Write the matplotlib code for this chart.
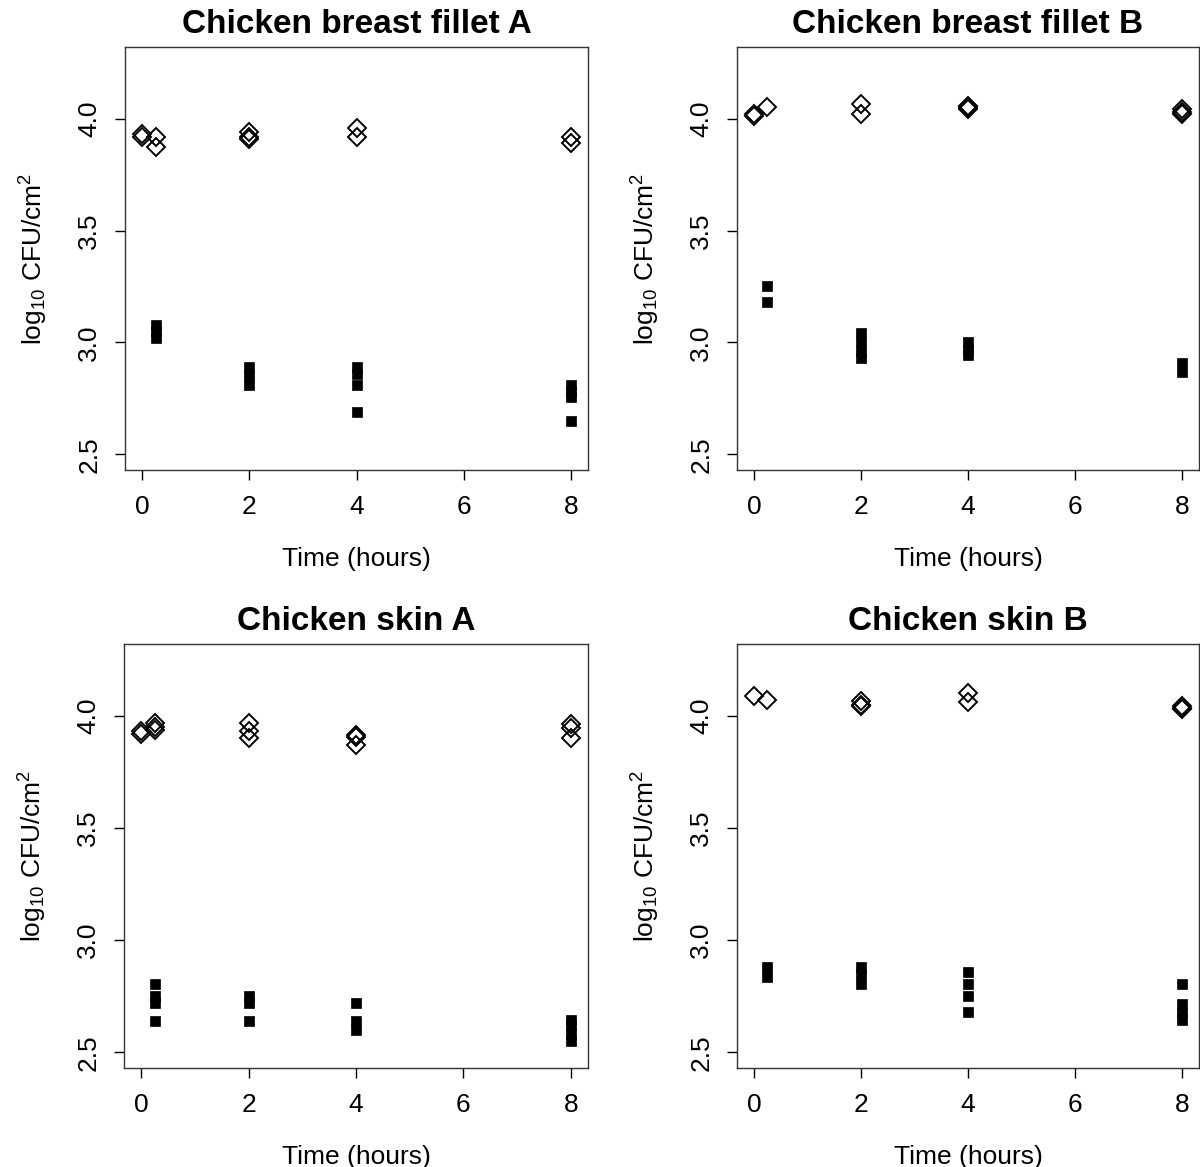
import matplotlib
matplotlib.use("Agg")
import matplotlib.pyplot as plt

plt.rcParams['font.family'] = ['Liberation Sans', 'DejaVu Sans']
plt.rcParams['mathtext.fontset'] = 'custom'
plt.rcParams['mathtext.rm'] = 'Liberation Sans'
plt.rcParams['mathtext.it'] = 'Liberation Sans:italic'

titles = ["Chicken breast fillet A", "Chicken breast fillet B",
          "Chicken skin A", "Chicken skin B"]
xticks = [0, 2, 4, 6, 8]
yticks = [2.5, 3.0, 3.5, 4.0]

# open diamonds (control) : times and values
fa_d_t = [0, 0, 0.25, 0.25, 2, 2, 2, 4, 4, 8, 8]
fa_d_v = [3.93, 3.92, 3.92, 3.875, 3.94, 3.92, 3.91, 3.96, 3.92, 3.92, 3.89]
# filled squares (treated)
fa_s_t = [0.25, 0.25, 0.25, 2, 2, 2, 4, 4, 4, 4, 8, 8, 8, 8]
fa_s_v = [3.08, 3.05, 3.02, 2.89, 2.85, 2.81, 2.89, 2.86, 2.81, 2.69, 2.81, 2.78, 2.755, 2.65]

fb_d_t = [0, 0, 0.25, 2, 2, 4, 4, 4, 8, 8, 8]
fb_d_v = [4.02, 4.01, 4.05, 4.065, 4.02, 4.05, 4.045, 4.055, 4.045, 4.03, 4.02]
fb_s_t = [0.25, 0.25, 2, 2, 2, 2, 4, 4, 4, 8, 8]
fb_s_v = [3.25, 3.18, 3.04, 3.0, 2.96, 2.93, 3.0, 2.97, 2.945, 2.91, 2.87]

sa_d_t = [0, 0, 0.25, 0.25, 0.25, 2, 2, 2, 4, 4, 4, 8, 8, 8]
sa_d_v = [3.93, 3.92, 3.97, 3.95, 3.935, 3.97, 3.93, 3.90, 3.915, 3.905, 3.87, 3.965, 3.945, 3.90]
sa_s_t = [0.25, 0.25, 0.25, 0.25, 2, 2, 2, 4, 4, 4, 8, 8, 8, 8]
sa_s_v = [2.805, 2.75, 2.72, 2.64, 2.75, 2.72, 2.64, 2.72, 2.64, 2.60, 2.645, 2.62, 2.58, 2.55]

sb_d_t = [0, 0.25, 2, 2, 2, 4, 4, 8, 8, 8]
sb_d_v = [4.09, 4.07, 4.065, 4.05, 4.045, 4.10, 4.06, 4.045, 4.035, 4.03]
sb_s_t = [0.25, 0.25, 2, 2, 2, 4, 4, 4, 4, 8, 8, 8, 8]
sb_s_v = [2.88, 2.835, 2.88, 2.85, 2.805, 2.86, 2.805, 2.75, 2.68, 2.805, 2.715, 2.68, 2.645]

panels = [
    (fa_d_t, fa_d_v, fa_s_t, fa_s_v),
    (fb_d_t, fb_d_v, fb_s_t, fb_s_v),
    (sa_d_t, sa_d_v, sa_s_t, sa_s_v),
    (sb_d_t, sb_d_v, sb_s_t, sb_s_v),
]

W, H = 1200, 1167
fig = plt.figure(figsize=(W / 100, H / 100), dpi=100)
boxes = [(125, 47, 588, 470), (737, 47, 1199, 470),
         (124, 644, 588, 1068), (737, 644, 1199, 1068)]

for (x0, y0, x1, y1), title, (dt, dv, st, sv) in zip(boxes, titles, panels):
    ax = fig.add_axes([x0 / W, 1 - y1 / H, (x1 - x0) / W, (y1 - y0) / H])
    ax.plot(dt, dv, linestyle='none', marker='D', markersize=9.5,
            markerfacecolor='none', markeredgecolor='black', markeredgewidth=1.4)
    ax.plot(st, sv, linestyle='none', marker='s', markersize=7.5,
            markerfacecolor='black', markeredgecolor='black', markeredgewidth=0.5)
    ax.set_xlim(-0.32, 8.32)
    ax.set_ylim(2.43, 4.32)
    ax.set_xticks(xticks)
    ax.set_xticklabels([str(t) for t in xticks])
    ax.set_yticks(yticks)
    ax.set_yticklabels([f"{t:.1f}" for t in yticks], rotation=90, va='center')
    ax.tick_params(axis='both', direction='out', length=7, width=1,
                   labelsize=19)
    ax.tick_params(axis='x', pad=11)
    ax.tick_params(axis='y', pad=10)
    for s in ax.spines.values():
        s.set_linewidth(1)
        s.set_color('#333333')
    ax.set_title(title, fontsize=24, fontweight='bold', pad=10)
    ax.set_xlabel("Time (hours)", fontsize=19, labelpad=20)
    ax.set_ylabel(r"log$_{10}$ CFU/cm$^2$", fontsize=19, labelpad=20)

fig.savefig("out.png", dpi=100)
